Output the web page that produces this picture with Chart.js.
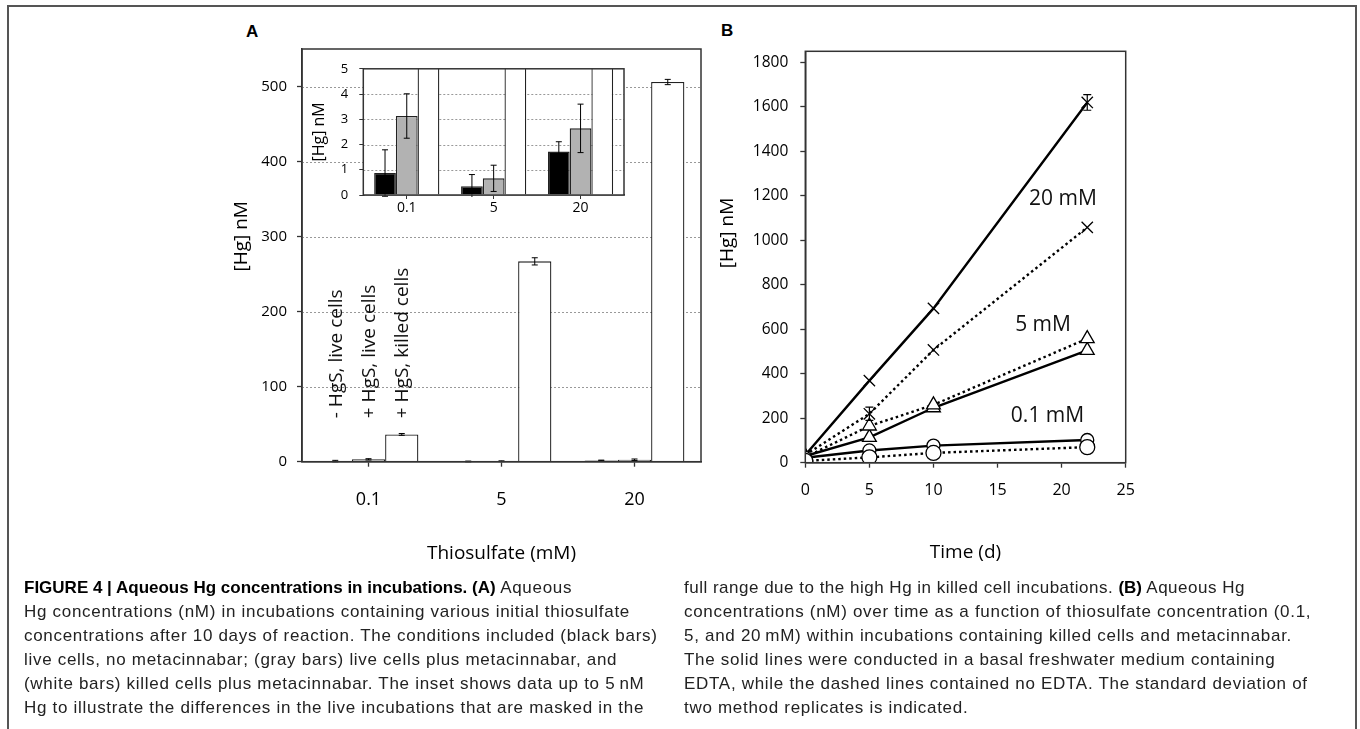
<!DOCTYPE html>
<html>
<head>
<meta charset="utf-8">
<script src="https://cdn.jsdelivr.net/npm/chart.js@4.4.0/dist/chart.umd.min.js"></script>
<style>
  body { margin: 0; background: #fff; width: 1360px; height: 729px; overflow: hidden; position: relative; }
  #frame { position: absolute; left: 7px; top: 5px; width: 1350px; height: 800px; border: 2px solid #555; box-sizing: border-box; }
  canvas { position: absolute; }
  .panel { position: absolute; font-family: "Liberation Sans", Arial, sans-serif; font-weight: bold; font-size: 17px; color: #000; }
  .cap { position: absolute; font-family: "Liberation Sans", Arial, sans-serif; font-size: 17px; line-height: 24px; color: #222; white-space: nowrap; letter-spacing: 0.7px; }
  .cap div { height: 24px; }
  .cap b { color: #000; letter-spacing: 0; }
</style>
</head>
<body>
<div id="frame"></div>
<div class="panel" style="left:246px; top:22px;">A</div>
<div class="panel" style="left:721px; top:21px;">B</div>

<canvas id="chartA" width="540" height="560" style="left:200px; top:30px;"></canvas>
<canvas id="inset" width="340" height="180" style="left:300px; top:50px;"></canvas>
<canvas id="chartB" width="460" height="560" style="left:700px; top:30px;"></canvas>

<div class="cap" style="left:24px; top:576px;">
  <div><b>FIGURE 4 | Aqueous Hg concentrations in incubations. (A)</b> Aqueous</div>
  <div>Hg concentrations (nM) in incubations containing various initial thiosulfate</div>
  <div>concentrations after 10 days of reaction. The conditions included (black bars)</div>
  <div>live cells, no metacinnabar; (gray bars) live cells plus metacinnabar, and</div>
  <div>(white bars) killed cells plus metacinnabar. The inset shows data up to 5&thinsp;nM</div>
  <div>Hg to illustrate the differences in the live incubations that are masked in the</div>
</div>
<div class="cap" style="left:684px; top:576px; letter-spacing:0.5px;">
  <div>full range due to the high Hg in killed cell incubations. <b>(B)</b> Aqueous Hg</div>
  <div style="letter-spacing:0.7px">concentrations (nM) over time as a function of thiosulfate concentration (0.1,</div>
  <div style="letter-spacing:0.7px">5, and 20&thinsp;mM) within incubations containing killed cells and metacinnabar.</div>
  <div style="letter-spacing:0.7px">The solid lines were conducted in a basal freshwater medium containing</div>
  <div style="letter-spacing:0.7px">EDTA, while the dashed lines contained no EDTA. The standard deviation of</div>
  <div style="letter-spacing:0.7px">two method replicates is indicated.</div>
</div>

<script>
// panel A: Hg after 10 days, by thiosulfate concentration
const thioLabels = ['0.1', '5', '20'];
const conditionNames = ['- HgS, live cells', '+ HgS, live cells', '+ HgS, killed cells'];
const liveNoHgS = [0.87, 0.35, 1.72];
const liveNoHgSErr = [0.92, 0.46, 0.39];
const liveHgS = [3.13, 0.66, 2.64];
const liveHgSErr = [0.88, 0.52, 0.96];
const killedHgS = [36.4, 267, 506];
const killedHgSErr = [1.2, 4.8, 3.5];
const mainYTicks = [0, 100, 200, 300, 400, 500];
const insetYTicks = [0, 1, 2, 3, 4, 5];

// panel B: Hg over time, killed cells + metacinnabar
const days = [0, 5, 10, 22];
const edta20 = [35, 369, 694, 1620];
const edta20Err = [0, 0, 0, 35];
const noEdta20 = [35, 220, 507, 1058];
const noEdta20Err = [0, 30, 0, 0];
const edta5 = [30, 114, 247, 505];
const noEdta5 = [25, 165, 260, 558];
const edta01 = [22, 55, 77, 102];
const noEdta01 = [8, 24, 44, 70];
const seriesNames = ['20 mM', '5 mM', '0.1 mM'];
const timeTicks = [0, 5, 10, 15, 20, 25];
const hgTicks = [0, 200, 400, 600, 800, 1000, 1200, 1400, 1600, 1800];

const FONT = '"Open Sans", sans-serif';
Chart.defaults.font.family = FONT;
Chart.defaults.color = '#000';
Chart.defaults.animation = false;
Chart.defaults.plugins.legend.display = false;
Chart.defaults.plugins.tooltip.enabled = false;

const fixedTicks = arr => scale => { scale.ticks = arr.map(v => ({ value: v })); };
const plain = v => String(v);

// box around the plot area
const frameBox = {
  id: 'frameBox',
  afterDraw(chart) {
    const { ctx, chartArea: a } = chart;
    ctx.save();
    ctx.strokeStyle = '#333';
    ctx.lineWidth = 1.5;
    ctx.strokeRect(a.left, a.top, a.right - a.left, a.bottom - a.top);
    ctx.restore();
  }
};

// y axis title, shifted along the axis like the original
const yTitle = {
  id: 'yTitle',
  afterDraw(chart, args, opts) {
    const { ctx, chartArea: a } = chart;
    ctx.save();
    ctx.font = opts.size + 'px ' + FONT;
    ctx.fillStyle = '#000';
    ctx.textAlign = 'center';
    ctx.textBaseline = 'middle';
    ctx.translate(a.left - opts.dx, (a.top + a.bottom) / 2 + opts.dy);
    ctx.rotate(-Math.PI / 2);
    ctx.fillText(opts.text, 0, 0);
    ctx.restore();
  }
};

// white plot background + dotted gridlines
const dottedGrid = {
  id: 'dottedGrid',
  beforeDatasetsDraw(chart, args, opts) {
    const { ctx, chartArea: a } = chart;
    const y = chart.scales.y;
    ctx.save();
    if (opts.fill) {
      ctx.fillStyle = '#fff';
      ctx.fillRect(a.left, a.top, a.right - a.left, a.bottom - a.top);
    }
    if (opts.show) {
      ctx.strokeStyle = '#999';
      ctx.lineWidth = 1;
      ctx.setLineDash([2, 2]);
      y.ticks.forEach(t => {
        if (t.value <= y.min || t.value >= y.max) return;
        const py = Math.round(y.getPixelForValue(t.value)) + 0.5;
        ctx.beginPath();
        ctx.moveTo(a.left, py);
        ctx.lineTo(a.right, py);
        ctx.stroke();
      });
    }
    ctx.restore();
  }
};

const errorBars = {
  id: 'errorBars',
  afterDatasetsDraw(chart, args, opts) {
    const { ctx, chartArea: a } = chart;
    ctx.save();
    ctx.beginPath();
    ctx.rect(a.left, a.top - 2, a.right - a.left, a.bottom - a.top + 4);
    ctx.clip();
    ctx.strokeStyle = '#000';
    ctx.lineWidth = opts.width || 1;
    chart.data.datasets.forEach((ds, di) => {
      if (!ds.errors) return;
      const meta = chart.getDatasetMeta(di);
      const ys = chart.scales[meta.yAxisID];
      meta.data.forEach((el, i) => {
        const e = ds.errors[i];
        const d = ds.data[i];
        const v = typeof d === 'object' ? d.y : d;
        if (!e || v - e > ys.max) return;
        const y1 = ys.getPixelForValue(v + e);
        const y2 = ys.getPixelForValue(v - e);
        const c = opts.cap || 3;
        ctx.beginPath();
        ctx.moveTo(el.x, y1); ctx.lineTo(el.x, y2);
        ctx.moveTo(el.x - c, y1); ctx.lineTo(el.x + c, y1);
        ctx.moveTo(el.x - c, y2); ctx.lineTo(el.x + c, y2);
        ctx.stroke();
      });
    });
    ctx.restore();
  }
};

// rotated condition labels above the 0.1 mM bars
const conditionText = {
  id: 'conditionText',
  afterDatasetsDraw(chart) {
    const { ctx } = chart;
    const y = chart.scales.y;
    ctx.save();
    ctx.font = '19px ' + FONT;
    ctx.fillStyle = '#111';
    ctx.textAlign = 'left';
    ctx.textBaseline = 'middle';
    conditionNames.forEach((name, di) => {
      const el = chart.getDatasetMeta(di).data[0];
      ctx.save();
      ctx.translate(el.x + 1, y.getPixelForValue(58));
      ctx.rotate(-Math.PI / 2);
      ctx.fillText(name, 0, 0);
      ctx.restore();
    });
    ctx.restore();
  }
};

// concentration labels next to the lines in panel B
const seriesText = {
  id: 'seriesText',
  afterDatasetsDraw(chart) {
    const { ctx } = chart;
    const xs = chart.scales.x, ys = chart.scales.y;
    const anchors = [[20.1, 1185], [18.55, 618], [18.9, 210]];
    ctx.save();
    ctx.font = '21px ' + FONT;
    ctx.fillStyle = '#111';
    ctx.textAlign = 'center';
    ctx.textBaseline = 'middle';
    seriesNames.forEach((name, i) => {
      ctx.fillText(name, xs.getPixelForValue(anchors[i][0]), ys.getPixelForValue(anchors[i][1]));
    });
    ctx.restore();
  }
};

function barSets(withErr) {
  const fills = ['#000', '#b2b2b2', '#fff'];
  const vals = [liveNoHgS, liveHgS, killedHgS];
  const errs = [liveNoHgSErr, liveHgSErr, killedHgSErr];
  return vals.map((v, i) => ({
    label: conditionNames[i],
    data: v,
    errors: withErr ? errs[i] : null,
    backgroundColor: fills[i],
    borderColor: '#222',
    borderWidth: 1.3,
    categoryPercentage: 0.75,
    barPercentage: 1
  }));
}

new Chart(document.getElementById('chartA'), {
  type: 'bar',
  data: { labels: thioLabels, datasets: barSets(true) },
  options: {
    responsive: false,
    devicePixelRatio: 1,
    layout: { padding: { left: 0, top: 12.7, right: 39, bottom: 18.3 } },
    scales: {
      x: {
        afterFit: s => { s.height = 110; },
        grid: { offset: false, drawOnChartArea: false, tickLength: 5, color: '#333', tickWidth: 1.3 },
        border: { color: '#333', width: 1.5 },
        ticks: { font: { size: 18 }, padding: 22, maxRotation: 0 },
        title: { display: true, text: 'Thiosulfate (mM)', font: { size: 19 }, padding: { bottom: 7 } }
      },
      y: {
        min: 0, max: 550,
        afterBuildTicks: fixedTicks(mainYTicks),
        afterFit: s => { s.width = 102; },
        grid: { drawOnChartArea: false, tickLength: 5, color: '#333', tickWidth: 1.3 },
        border: { color: '#333', width: 1.5 },
        ticks: { font: { size: 15 }, padding: 10, callback: plain }
      }
    },
    plugins: {
      dottedGrid: { show: true },
      errorBars: { cap: 3 },
      yTitle: { text: '[Hg] nM', size: 19, dx: 60, dy: -19 }
    }
  },
  plugins: [dottedGrid, errorBars, conditionText, frameBox, yTitle]
});

new Chart(document.getElementById('inset'), {
  type: 'bar',
  data: { labels: thioLabels, datasets: barSets(true) },
  options: {
    responsive: false,
    devicePixelRatio: 1,
    layout: { padding: { left: 0, top: 10.7, right: 16, bottom: 5 } },
    scales: {
      x: {
        afterFit: s => { s.height = 30; },
        grid: { offset: false, drawOnChartArea: false, tickLength: 4, color: '#333' },
        border: { color: '#333', width: 1.5 },
        ticks: { font: { size: 14 }, padding: 1, maxRotation: 0 }
      },
      y: {
        min: 0, max: 5,
        afterBuildTicks: fixedTicks(insetYTicks),
        afterFit: s => { s.width = 63.3; },
        grid: { drawOnChartArea: false, tickLength: 4, color: '#333' },
        border: { color: '#333', width: 1.5 },
        ticks: { font: { size: 13 }, padding: 11 },
        title: { display: true, text: '[Hg] nM', font: { size: 16 }, padding: { top: 10 } }
      }
    },
    plugins: { dottedGrid: { show: true, fill: true }, errorBars: { cap: 3 } }
  },
  plugins: [dottedGrid, errorBars, frameBox]
});

const pts = vals => days.map((d, i) => ({ x: d, y: vals[i] }));
const lineSet = (vals, errs, style, radius, dotted) => ({
  data: pts(vals),
  errors: errs,
  showLine: true,
  borderColor: '#000',
  borderWidth: 2.4,
  borderDash: dotted ? [2.5, 3] : [],
  pointStyle: style,
  pointRadius: radius,
  pointBorderWidth: 1.3,
  pointBorderColor: '#000',
  pointBackgroundColor: '#fff',
  tension: 0
});

new Chart(document.getElementById('chartB'), {
  type: 'scatter',
  data: {
    datasets: [
      lineSet(noEdta01, null, 'circle', 7.5, true),
      lineSet(edta01, null, 'circle', 6.5, false),
      lineSet(noEdta5, null, 'triangle', 8, true),
      lineSet(edta5, null, 'triangle', 8, false),
      lineSet(noEdta20, noEdta20Err, 'crossRot', 8, true),
      lineSet(edta20, edta20Err, 'crossRot', 8, false)
    ]
  },
  options: {
    responsive: false,
    devicePixelRatio: 1,
    layout: { padding: { left: 0, top: 9.3, right: 34.3, bottom: 17.3 } },
    scales: {
      x: {
        type: 'linear', min: 0, max: 25,
        afterBuildTicks: fixedTicks(timeTicks),
        afterFit: s => { s.height = 110; },
        grid: { drawOnChartArea: false, tickLength: 5, color: '#333', tickWidth: 1.3 },
        border: { color: '#333', width: 1.5 },
        ticks: { font: { size: 16 }, padding: 13, callback: plain },
        title: { display: true, text: 'Time (d)', font: { size: 19 }, padding: { bottom: 9 } }
      },
      y: {
        min: 0, max: 1850,
        afterBuildTicks: fixedTicks(hgTicks),
        afterFit: s => { s.width = 105.3; },
        grid: { drawOnChartArea: false, tickLength: 5, color: '#333', tickWidth: 1.3 },
        border: { color: '#333', width: 1.5 },
        ticks: { font: { size: 15.5 }, padding: 12, callback: plain }
      }
    },
    plugins: {
      errorBars: { cap: 4, width: 1.2 },
      yTitle: { text: '[Hg] nM', size: 19, dx: 78, dy: -24 }
    }
  },
  plugins: [errorBars, seriesText, frameBox, yTitle]
});
</script>
</body>
</html>
